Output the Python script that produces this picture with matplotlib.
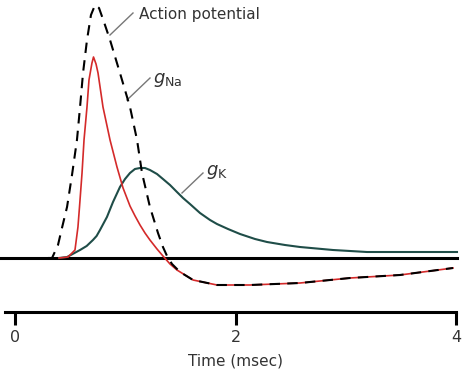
import matplotlib
matplotlib.use("Agg")
import matplotlib.pyplot as plt

# Time in msec, amplitude in arbitrary units (0 = resting baseline)
ap_t = [0.30, 0.336, 0.390, 0.426, 0.472, 0.517, 0.562, 0.590, 0.617, 0.653, 0.689, 0.726,
        0.762, 0.807, 0.862, 0.952, 1.043, 1.107, 1.152, 1.224, 1.297, 1.342, 1.379, 1.424,
        1.497, 1.615, 1.832, 2.132, 2.585, 3.039, 3.492, 3.973]
ap_v = [0, 0, 13, 30, 51, 83, 118, 151, 185, 218, 243, 253,
        250, 236, 218, 185, 151, 118, 85, 51, 25, 11, 2, -6,
        -14, -22, -27, -27, -25, -20, -17, -10]

na_t = [0.40, 0.481, 0.544, 0.571, 0.585, 0.608, 0.626, 0.653, 0.671, 0.698, 0.712, 0.735,
        0.753, 0.798, 0.862, 0.925, 0.980, 1.043, 1.089, 1.134, 1.179, 1.224, 1.288, 1.342,
        1.406, 1.469, 1.615, 1.832, 2.132, 2.585, 3.039, 3.492, 3.973]
na_v = [0, 1, 8, 31, 51, 85, 118, 151, 178, 195, 201, 194,
        185, 151, 118, 91, 70, 52, 42, 33, 25, 18, 9, 2,
        -6, -12, -22, -27, -27, -25, -20, -17, -10]

k_t = [0.40, 0.472, 0.590, 0.650, 0.707, 0.740, 0.771, 0.834, 0.889, 0.952, 0.998, 1.043,
       1.088, 1.134, 1.179, 1.224, 1.288, 1.342, 1.406, 1.469, 1.524, 1.587, 1.678, 1.769,
       1.832, 1.932, 2.041, 2.177, 2.286, 2.449, 2.585, 2.884, 3.193, 3.583, 4.009]
k_v = [0, 1, 8, 12, 18, 22, 28, 41, 56, 71, 79, 85,
       89, 90, 90, 88, 84, 79, 73, 66, 60, 54, 45, 38,
       34, 29, 24, 19, 16, 13, 11, 8, 6, 6, 6]

xticks = [0, 2, 4]
xlabel = "Time (msec)"

fig = plt.figure(figsize=(4.74, 3.80), dpi=100)
ax = fig.add_axes([0, 0, 1, 1])
ax.set_xlim(-15 / 110.25, (474 - 15) / 110.25)
ax.set_ylim(-122, 258)

red = "#d42a2a"
green = "#1f4d48"

ax.plot(k_t, k_v, color=green, lw=1.5, zorder=3, solid_joinstyle="round")
ax.plot(na_t, na_v, color=red, lw=1.2, zorder=4, solid_joinstyle="round")
ax.plot(ap_t, ap_v, color="black", lw=1.5, dashes=(5, 3.5), zorder=5)

ax.axhline(0, xmin=0, xmax=457 / 474, color="black", lw=2.2, zorder=2)

# time axis
for s in ["left", "right", "top"]:
    ax.spines[s].set_visible(False)
ax.spines["bottom"].set_position(("data", -54))
ax.spines["bottom"].set_bounds(-10 / 110.25, 4)
ax.spines["bottom"].set_linewidth(2.2)
ax.set_yticks([])
ax.set_xticks(xticks)
ax.set_xticklabels([str(v) for v in xticks])
ax.tick_params(axis="x", direction="out", length=9, width=2.2, labelsize=11.5,
               pad=4, labelcolor="#333333")
ax.set_xlabel(xlabel, fontsize=11, color="#333333")
ax.xaxis.set_label_coords(236 / 474, (380 - 354) / 380)

gray = "#777777"
# Action potential label
ax.plot([(110 - 15) / 110.25, (133 - 15) / 110.25], [258 - 35, 258 - 13], color=gray, lw=1)
ax.text((139 - 15) / 110.25, 258 - 14, "Action potential", fontsize=11, color="#333333",
        va="center", ha="left")
# gNa label
ax.plot([(127 - 15) / 110.25, (150 - 15) / 110.25], [258 - 100, 258 - 78], color=gray, lw=1)
ax.text((153 - 15) / 110.25, 258 - 80, r"$g_{\mathrm{Na}}$", fontsize=13, color="#333333",
        va="center", ha="left")
# gK label
ax.plot([(182 - 15) / 110.25, (203 - 15) / 110.25], [258 - 193, 258 - 173], color=gray, lw=1)
ax.text((206 - 15) / 110.25, 258 - 172, r"$g_{\mathrm{K}}$", fontsize=13, color="#333333",
        va="center", ha="left")

fig.savefig("out.png", dpi=100)
